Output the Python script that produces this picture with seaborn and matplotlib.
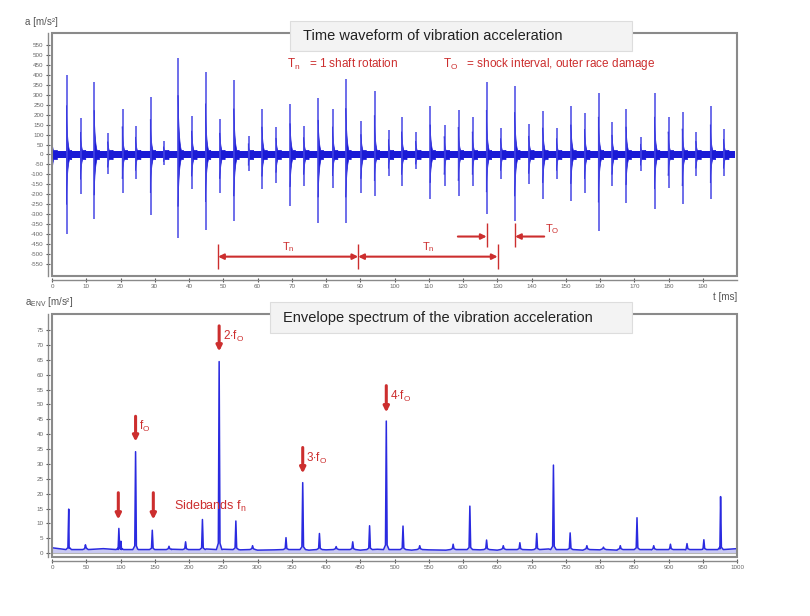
import numpy as np
import pandas as pd
import matplotlib
matplotlib.use("Agg")
import matplotlib.pyplot as plt
import seaborn as sns
from matplotlib.patches import Rectangle

# ---------------- data: time waveform (impulse bursts) ----------------
impulse_t = [0.1, 4.3, 8.4, 12.4, 16.4, 20.6, 24.5, 28.8, 32.7, 36.9, 40.9, 44.9,
             49.1, 53.2, 57.4, 61.4, 65.5, 69.6, 73.6, 77.8, 82.0, 85.9, 90.3, 94.2,
             98.3, 102.2, 106.3, 110.5, 114.6, 118.7, 122.8, 126.9, 131.1, 135.2,
             139.3, 143.4, 147.4, 151.6, 155.6, 159.6, 163.6, 167.7, 171.9, 176.0,
             180.0, 184.1, 188.1, 192.3, 196.2]
impulse_pos = [112, 400, 183, 362, 108, 230, 145, 288, 67, 483, 195, 415,
               178, 375, 92, 228, 137, 255, 142, 283, 228, 378, 167, 320,
               125, 188, 112, 245, 150, 225, 188, 362, 133, 345,
               153, 220, 133, 245, 208, 308, 162, 228, 88, 308,
               188, 212, 112, 245, 128]
impulse_neg = [-142, -400, -197, -325, -100, -192, -125, -305, -53, -417, -172, -378,
               -192, -333, -84, -173, -142, -258, -158, -342, -167, -342, -192, -208,
               -108, -158, -75, -225, -158, -208, -158, -300, -125, -333,
               -150, -225, -125, -233, -192, -383, -158, -242, -83, -275,
               -167, -250, -108, -225, -108]
noise_floor = 17
time_ticks = list(range(0, 200, 10))
acc_ticks = list(range(-550, 551, 50))

# ---------------- data: envelope spectrum ----------------
spec_base_f = list(range(0, 1001, 25))
spec_base_a = [1.8, 1.6, 2.0, 1.5, 1.3, 1.4, 1.2, 1.3, 1.2, 1.4, 1.3, 1.1, 1.0, 1.1,
               1.2, 1.0, 1.1, 1.2, 1.0, 1.3, 1.2, 1.0, 1.1, 1.0, 1.2, 1.1, 1.0, 1.2,
               1.1, 1.4, 1.2, 1.0, 1.1, 1.0, 1.2, 1.1, 1.2, 1.1, 1.3, 1.4, 1.5]
spec_peak_f = [24.4, 48.8, 97.6, 100.5, 122.0, 146.4, 170.8, 195.0, 219.6, 244.0,
               268.4, 292.8, 341.6, 366.0, 390.4, 414.8, 439.0, 463.6, 488.0,
               512.4, 536.8, 585.6, 610.0, 634.4, 658.8, 683.0, 707.6, 732.0,
               756.4, 780.8, 805.0, 829.6, 854.0, 878.4, 902.8, 927.0, 951.6, 976.0]
spec_peak_a = [14.8, 2.8, 8.3, 4.0, 34.1, 7.7, 2.3, 3.8, 11.3, 64.4,
               10.8, 2.5, 5.2, 23.7, 6.6, 2.2, 3.8, 9.2, 44.4,
               9.1, 2.5, 3.0, 15.8, 4.4, 2.5, 3.5, 6.6, 29.6,
               6.8, 2.5, 2.0, 2.5, 11.9, 2.5, 3.0, 3.2, 4.5, 19.0]
freq_ticks = list(range(0, 1001, 50))
env_ticks = list(range(0, 76, 5))

# ---------------- annotations ----------------
tn_marks = [48.5, 89.4, 130.1]
to_marks = [126.9, 135.2]
harm_f = [122.0, 244.0, 366.0, 488.0]
harm_labels = [r"f$_{\rm O}$", r"2$\cdot$f$_{\rm O}$", r"3$\cdot$f$_{\rm O}$", r"4$\cdot$f$_{\rm O}$"]
harm_arrow_top = [46.0, 76.4, 35.5, 56.3]
harm_arrow_tip = [37.5, 67.8, 26.8, 47.3]
side_f = [96.8, 147.9]
side_arrow_top = 20.3
side_arrow_tip = 11.3

RED = "#cc2e2e"
BLUE = "#1a1ad6"
SPIKE = "#4646e4"
GRAY = "#8a8a8a"

sns.set_theme(style="white")
plt.rcParams["font.family"] = ["Liberation Sans", "DejaVu Sans"]
plt.rcParams["mathtext.fontset"] = "custom"
plt.rcParams["mathtext.rm"] = "Liberation Sans"
plt.rcParams["mathtext.it"] = "Liberation Sans"
plt.rcParams["axes.unicode_minus"] = False

fig = plt.figure(figsize=(8.1, 6.16), dpi=100)
ax1 = fig.add_axes([0.0642, 0.552, 0.8457, 0.3944])
ax2 = fig.add_axes([0.0642, 0.0958, 0.8457, 0.3945])


def style_axes(ax):
    for s in ["top", "right"]:
        ax.spines[s].set_visible(False)
    for s in ["left", "bottom"]:
        ax.spines[s].set_position(("outward", 3))
        ax.spines[s].set_color(GRAY)
        ax.spines[s].set_linewidth(1.0)
    ax.add_patch(Rectangle((0, 0), 1, 1, transform=ax.transAxes, fill=False,
                           edgecolor=GRAY, lw=1.5, clip_on=False, zorder=4))
    ax.tick_params(axis="both", which="both", direction="inout", length=3, width=0.8,
                   color="#555555", labelsize=4.5, labelcolor="#666666", pad=1.5)
    ax.tick_params(axis="both", left=True, bottom=True)


# ---------------- top: time waveform ----------------
t_all = np.array([0.0, 199.5])
ax1.fill_between(t_all, -noise_floor, noise_floor, color=BLUE, lw=0, zorder=1)
tau = np.linspace(0, 1.3, 60)
decay = np.exp(-tau / 0.32)
for t, p, n in zip(impulse_t, impulse_pos, impulse_neg):
    up = np.maximum(0.62 * p * decay, noise_floor + 6)
    lo = np.minimum(0.62 * n * decay, -noise_floor - 6)
    ax1.fill_between(t - 0.25 + tau * 1.2, lo, up, color=BLUE, lw=0.5, edgecolor=BLUE,
                     zorder=2)
    ax1.vlines([t], [n], [p], color=SPIKE, lw=1.1, zorder=3)

ax1.set_xlim(0, 200)
ax1.set_ylim(-610, 610)
ax1.set_xticks(time_ticks)
ax1.set_yticks(acc_ticks)
style_axes(ax1)

# T_n arrows
ax1.vlines(tn_marks, -575, -450, color=RED, lw=1.0, zorder=5)
for a, b in zip(tn_marks[:-1], tn_marks[1:]):
    ax1.annotate("", xy=(b, -513), xytext=(a, -513),
                 arrowprops=dict(arrowstyle="<|-|>", color=RED, lw=1.5,
                                 mutation_scale=8, shrinkA=0, shrinkB=0), zorder=5)
    ax1.text((a + b) / 2, -465, r"T$_{\rm n}$", color=RED, fontsize=8,
             ha="center", va="center", zorder=5)
# T_O arrows
ax1.vlines(to_marks, -467, -345, color=RED, lw=1.0, zorder=5)
ax1.annotate("", xy=(to_marks[0], -412), xytext=(118.5, -412),
             arrowprops=dict(arrowstyle="-|>", color=RED, lw=1.5,
                             mutation_scale=8, shrinkA=0, shrinkB=0), zorder=5)
ax1.annotate("", xy=(to_marks[1], -412), xytext=(143.7, -412),
             arrowprops=dict(arrowstyle="-|>", color=RED, lw=1.5,
                             mutation_scale=8, shrinkA=0, shrinkB=0), zorder=5)
ax1.text(144.0, -375, r"T$_{\rm O}$", color=RED, fontsize=8, ha="left", va="center", zorder=5)

# ---------------- bottom: envelope spectrum ----------------
pts = list(zip(spec_base_f, spec_base_a))
for f, a in zip(spec_peak_f, spec_peak_a):
    sh = 1.4 + 0.03 * a
    pts += [(f - 4.0, 1.2), (f - 1.2, sh), (f, a), (f + 1.2, sh), (f + 4.0, 1.2)]
pts.sort(key=lambda p: p[0])
spec = pd.DataFrame(pts, columns=["freq", "amp"])
ax2.fill_between(spec["freq"], 0, spec["amp"], color="#c9c9f2", lw=0, zorder=1)
sns.lineplot(data=spec, x="freq", y="amp", ax=ax2, color="#2a2ae0", lw=1.1,
             sort=False, zorder=2)
ax2.axhline(0, color="#b5b5b5", lw=0.8, zorder=1)
ax2.set_xlim(0, 1000)
ax2.set_ylim(-1.3, 80.4)
ax2.set_xticks(freq_ticks)
ax2.set_yticks(env_ticks)
ax2.set_xlabel("")
ax2.set_ylabel("")
style_axes(ax2)

for f, lab, top, tip in zip(harm_f, harm_labels, harm_arrow_top, harm_arrow_tip):
    ax2.annotate("", xy=(f, tip), xytext=(f, top),
                 arrowprops=dict(arrowstyle="-|>", color=RED, lw=2.2,
                                 mutation_scale=8, shrinkA=0, shrinkB=0), zorder=5)
    ax2.text(f + 5, (top + tip) / 2 + 0.8, lab, color=RED, fontsize=8.5,
             ha="left", va="center", zorder=5)
for f in side_f:
    ax2.annotate("", xy=(f, side_arrow_tip), xytext=(f, side_arrow_top),
                 arrowprops=dict(arrowstyle="-|>", color=RED, lw=2.2,
                                 mutation_scale=8, shrinkA=0, shrinkB=0), zorder=5)
ax2.text(178, 15.6, r"Sidebands f$_{\rm n}$", color=RED, fontsize=9,
         ha="left", va="center", zorder=5)

# ---------------- figure texts ----------------
fig.text(0.031, 0.964, "a [m/s²]", fontsize=7, color="#555555", ha="left", va="center")
fig.text(0.031, 0.510, r"a$_{\rm ENV}$ [m/s²]", fontsize=7, color="#555555",
         ha="left", va="center")
fig.text(0.910, 0.518, "t [ms]", fontsize=7, color="#555555", ha="right", va="center")

fig.patches.append(Rectangle((0.358, 0.917), 0.422, 0.049, transform=fig.transFigure,
                             facecolor="#f3f3f3", edgecolor="#dddddd", lw=0.8, zorder=6))
fig.text(0.374, 0.9416, "Time waveform of vibration acceleration", fontsize=10.5,
         color="#222222", ha="left", va="center", zorder=7)
fig.patches.append(Rectangle((0.333, 0.459), 0.447, 0.051, transform=fig.transFigure,
                             facecolor="#f3f3f3", edgecolor="#dddddd", lw=0.8, zorder=6))
fig.text(0.349, 0.4838, "Envelope spectrum of the vibration acceleration", fontsize=10.5,
         color="#222222", ha="left", va="center", zorder=7)

fig.text(0.354, 0.896, r"T$_{\rm n}$   = 1 shaft rotation", fontsize=8.5, color=RED,
         ha="left", va="center")
fig.text(0.547, 0.896, r"T$_{\rm O}$   = shock interval, outer race damage", fontsize=8.5,
         color=RED, ha="left", va="center")

fig.savefig("out.png", dpi=100)
